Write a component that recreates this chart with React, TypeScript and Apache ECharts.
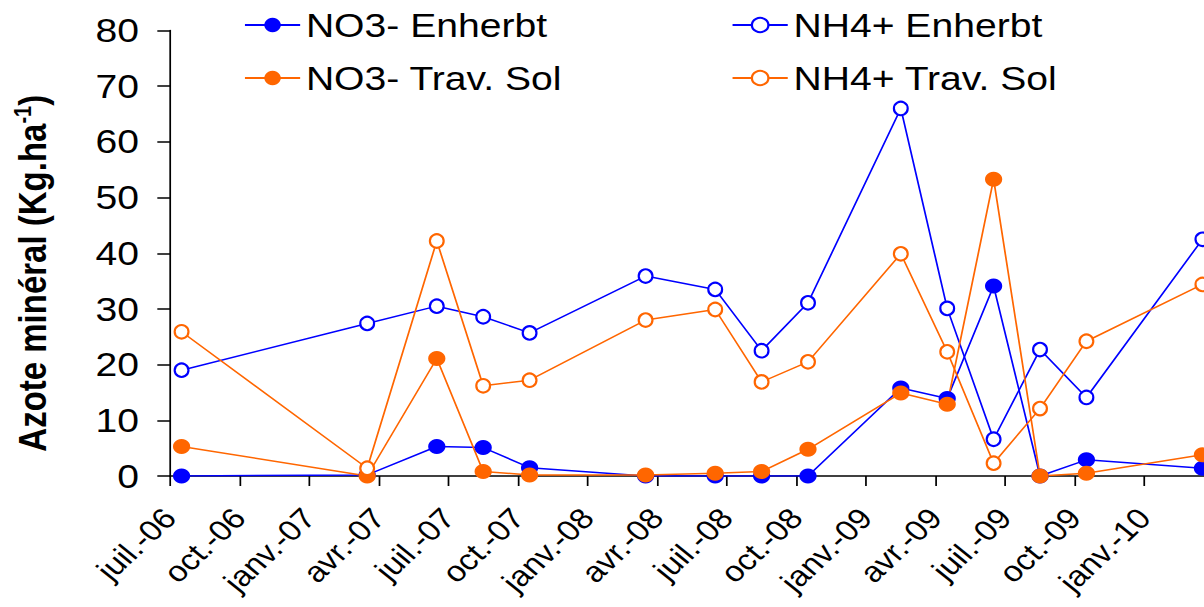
import React, { useEffect, useRef } from 'react';
import * as echarts from 'echarts';

// Sampling dates (year-month) and measured values (Kg.ha-1)
const sampleMonths = ['2006-07', '2007-03', '2007-06', '2007-08', '2007-10', '2008-03', '2008-06', '2008-08', '2008-10', '2009-02', '2009-04', '2009-06', '2009-08', '2009-10', '2010-03'];
const no3Enherbt = [0, 0.2, 5.3, 5.1, 1.5, 0, 0, 0, 0, 15.8, 13.9, 34.1, 0, 2.9, 1.4];
const nh4Enherbt = [19.0, 27.4, 30.5, 28.6, 25.7, 35.9, 33.5, 22.5, 31.1, 66.0, 30.1, 6.6, 22.7, 14.1, 42.5];
const no3TravSol = [5.3, 0, 21.1, 0.8, 0.2, 0.2, 0.5, 0.8, 4.8, 14.9, 12.9, 53.3, 0, 0.5, 3.8];
const nh4TravSol = [25.9, 1.4, 42.2, 16.2, 17.2, 28.0, 29.9, 16.9, 20.5, 39.9, 22.3, 2.3, 12.1, 24.2, 34.4];

// Quarterly tick labels, starting at juil.-06 (month 0)
const xTickLabels = ['juil.-06', 'oct.-06', 'janv.-07', 'avr.-07', 'juil.-07', 'oct.-07', 'janv.-08', 'avr.-08', 'juil.-08', 'oct.-08', 'janv.-09', 'avr.-09', 'juil.-09', 'oct.-09', 'janv.-10'];
const axisStart = { year: 2006, month: 7 };

const BLUE = '#0000FF';
const ORANGE = '#FF6600';
const FONT = '"Liberation Sans", Arial, sans-serif';
const K = 1.15; // horizontal stretch of the reference picture
const W = 1204 / K;
const H = 607;

function monthPos(s: string): number {
  const [y, m] = s.split('-').map(Number);
  return (y - axisStart.year) * 12 + (m - axisStart.month) + 0.5;
}
function pairs(vals: number[]) {
  return vals.map((v, i) => [monthPos(sampleMonths[i]), v]);
}

export default function App() {
  const ref = useRef<HTMLDivElement>(null);
  useEffect(() => {
    if (!ref.current) return;
    const chart = echarts.init(ref.current, undefined, { renderer: 'svg' });
    const legendBase = {
      orient: 'vertical' as const,
      top: 3,
      itemWidth: 48,
      itemHeight: 18,
      itemGap: 19,
      selectedMode: false,
      textStyle: { fontSize: 34, color: '#000', fontFamily: FONT },
    };
    const filled = (name: string, data: number[], color: string) => ({
      name,
      type: 'line',
      data: pairs(data),
      symbol: 'circle',
      symbolSize: 15,
      itemStyle: { color, borderWidth: 0 },
      lineStyle: { color, width: 1.5 },
      emphasis: { disabled: true },
    });
    const empty = (name: string, data: number[], color: string) => ({
      name,
      type: 'line',
      data: pairs(data),
      symbol: 'emptyCircle',
      symbolSize: [12, 13.5],
      itemStyle: { color, borderColor: color, borderWidth: 1.5 },
      lineStyle: { color, width: 1.5 },
      emphasis: { disabled: true },
    });
    chart.setOption({
      animation: false,
      backgroundColor: '#fff',
      textStyle: { fontFamily: FONT },
      grid: {
        left: 147.8,
        right: W - (147.8 + 45 * (23.2 / K)),
        top: 30.5,
        bottom: 131,
        containLabel: false,
        outerBoundsMode: 'none',
      },
      legend: [
        { ...legendBase, left: 207, data: ['NO3- Enherbt', 'NO3- Trav. Sol'] },
        { ...legendBase, left: 631, data: ['NH4+ Enherbt', 'NH4+ Trav. Sol'] },
      ],
      xAxis: {
        type: 'value',
        min: 0,
        max: 45,
        interval: 3,
        axisLine: { show: true, onZero: false, lineStyle: { color: '#000', width: 1.5 } },
        axisTick: { show: true, inside: false, length: 10, lineStyle: { color: '#000', width: 1.5 } },
        splitLine: { show: false },
        axisLabel: {
          rotate: 47,
          margin: 37,
          fontSize: 29,
          color: '#000',
          fontFamily: FONT,
          showMaxLabel: false,
          formatter: (v: number) => {
            const i = Math.round(v / 3);
            return xTickLabels[i] ?? '';
          },
        },
      },
      yAxis: {
        type: 'value',
        min: 0,
        max: 80,
        interval: 10,
        name: '{a|Azote minéral (Kg.ha}{sup|-1}{a|)}',
        nameLocation: 'middle',
        nameGap: 100,
        nameTextStyle: {
          padding: [0, 40, 0, 0],
          rich: {
            a: { fontSize: 33, fontWeight: 'bold', color: '#000', fontFamily: FONT, lineHeight: 38 },
            sup: { fontSize: 20, fontWeight: 'bold', color: '#000', fontFamily: FONT, lineHeight: 20, verticalAlign: 'top' },
          },
        },
        axisLine: { show: true, lineStyle: { color: '#000', width: 1.5 } },
        axisTick: { show: true, inside: false, length: 11, lineStyle: { color: '#000', width: 1.5 } },
        splitLine: { show: false },
        axisLabel: { fontSize: 34, margin: 27, color: '#000', fontFamily: FONT },
      },
      series: [
        filled('NO3- Enherbt', no3Enherbt, BLUE),
        empty('NH4+ Enherbt', nh4Enherbt, BLUE),
        filled('NO3- Trav. Sol', no3TravSol, ORANGE),
        empty('NH4+ Trav. Sol', nh4TravSol, ORANGE),
      ],
    });
    return () => chart.dispose();
  }, []);
  return (
    <div
      ref={ref}
      style={{
        position: 'absolute',
        left: 0,
        top: 0,
        width: W,
        height: H,
        transform: `scaleX(${K})`,
        transformOrigin: '0 0',
      }}
    />
  );
}
